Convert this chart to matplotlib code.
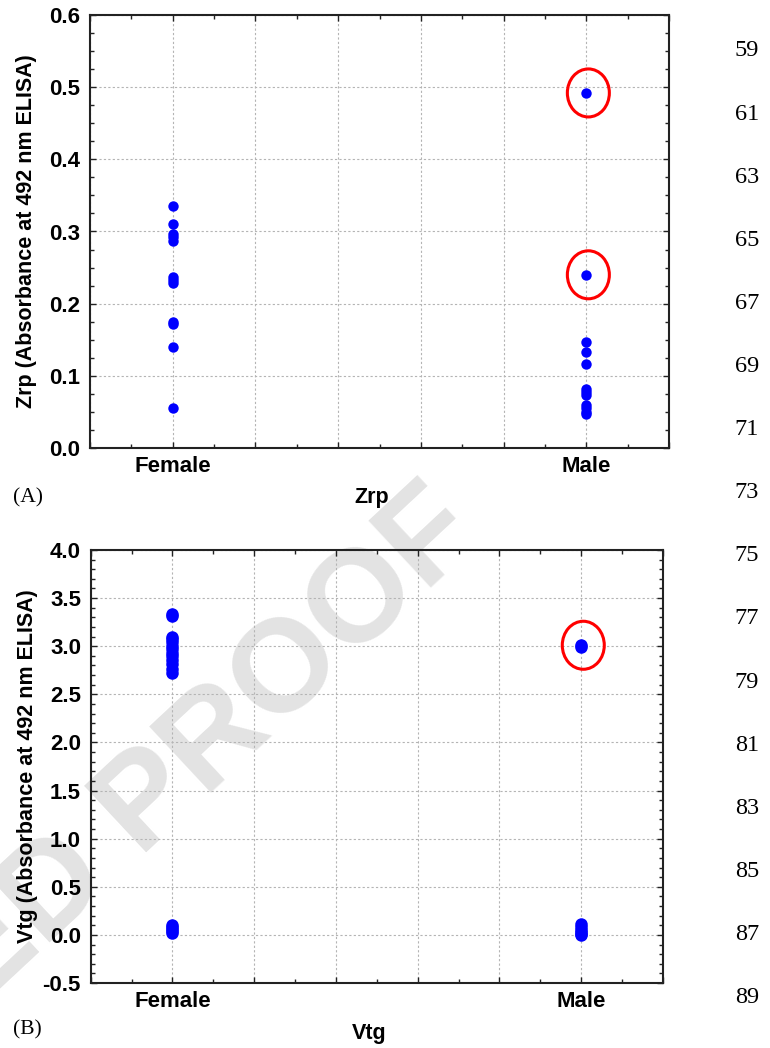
import numpy as np
import matplotlib
matplotlib.use('Agg')
import matplotlib.pyplot as plt
from matplotlib.patches import Ellipse
from matplotlib.ticker import MultipleLocator, FixedLocator, FixedFormatter, FormatStrFormatter

# Data
categories = ['Female', 'Male']
zrp_female = [0.335, 0.311, 0.297, 0.292, 0.287, 0.237, 0.233, 0.228, 0.175, 0.172, 0.140, 0.056]
zrp_male = [0.492, 0.240, 0.147, 0.133, 0.116, 0.082, 0.078, 0.074, 0.060, 0.055, 0.050, 0.047]
zrp_circled = [0, 1]
vtg_female = [3.33, 3.31, 3.10, 3.07, 3.04, 3.00, 2.97, 2.93, 2.90, 2.86, 2.82, 2.76, 2.72,
              0.10, 0.08, 0.06, 0.04, 0.02]
vtg_male = [3.01, 2.99, 0.11, 0.08, 0.05, 0.03, 0.01, 0.00]
vtg_circled = [0]
line_numbers = list(range(59, 90, 2))

plt.rcParams['font.family'] = ['Liberation Sans', 'DejaVu Sans']
plt.rcParams['font.weight'] = 'bold'
plt.rcParams['axes.labelweight'] = 'bold'
plt.rcParams['axes.unicode_minus'] = False

W, H = 770, 1048
fig = plt.figure(figsize=(W / 100, H / 100), dpi=100)


def fx(px):
    return px / W


def fy(py):
    return 1 - py / H


# watermark behind everything (its left part runs off the page, as in the source)
fig.text(fx(208), fy(748), 'ED PROOF', fontsize=95, fontweight='bold', color='#e3e3e3',
         rotation=43, ha='center', va='center', rotation_mode='anchor', zorder=-5)


def panel(rect, fem, male, circled, ylim, ystep, yminor, ms, ylabel, xlabel, xlab_y):
    ax = fig.add_axes(rect)
    ax.set_facecolor('none')
    ax.set_xlim(-0.2, 1.2)
    ax.set_ylim(*ylim)
    ax.set_axisbelow(True)

    ax.plot(np.zeros(len(fem)), fem, 'o', color='#0000ff', ms=ms, mec='none', zorder=3)
    ax.plot(np.ones(len(male)), male, 'o', color='#0000ff', ms=ms, mec='none', zorder=3)

    # red ellipses around the highlighted male points (about 42x48 px)
    bb = ax.get_window_extent()
    ew = 42 / bb.width * 1.4
    eh = 48 / bb.height * (ylim[1] - ylim[0])
    for i in circled:
        ax.add_patch(Ellipse((1.005, male[i]), ew, eh, fill=False, ec='#ff0000', lw=2.2, zorder=4))

    xt = np.round(np.arange(-0.2, 1.21, 0.2), 2)
    xl = [categories[int(v)] if v in (0.0, 1.0) else '' for v in xt]
    ax.xaxis.set_major_locator(FixedLocator(xt))
    ax.xaxis.set_major_formatter(FixedFormatter(xl))
    ax.xaxis.set_minor_locator(MultipleLocator(0.1))
    ax.yaxis.set_major_locator(MultipleLocator(ystep))
    ax.yaxis.set_minor_locator(MultipleLocator(yminor))
    ax.yaxis.set_major_formatter(FormatStrFormatter('%.1f'))

    ax.grid(True, which='major', color='#b4b4b4', linestyle=(0, (2, 2)), linewidth=0.8)
    ax.tick_params(which='both', direction='in', top=True, right=True, width=1, colors='#222222',
                   labelcolor='black')
    ax.tick_params(which='major', length=4, labelsize=16)
    ax.tick_params(which='minor', length=3)
    ax.tick_params(axis='y', pad=7)
    ax.tick_params(axis='x', pad=6)
    for s in ax.spines.values():
        s.set_linewidth(1.5)
        s.set_color('#222222')

    ax.set_ylabel(ylabel, fontsize=15.5, fontweight='bold', va='center')
    ax.yaxis.set_label_coords((27 - rect[0] * W) / (rect[2] * W), 0.5)
    ax.set_xlabel(xlabel, fontsize=15.5, fontweight='bold', va='center')
    ax.xaxis.set_label_coords(0.487, xlab_y)
    return ax


panel([fx(90), fy(448), (669 - 90) / W, (448 - 15) / H], zrp_female, zrp_male, zrp_circled,
      (0.0, 0.6), 0.1, 0.025, 7.5, 'Zrp (Absorbance at 492 nm ELISA)', 'Zrp', -0.115)
panel([fx(90.7), fy(983), (663 - 90.7) / W, (983 - 550) / H], vtg_female, vtg_male, vtg_circled,
      (-0.5, 4.0), 0.5, 0.1, 9, 'Vtg (Absorbance at 492 nm ELISA)', 'Vtg', -0.1155)

serif = ['Liberation Serif', 'DejaVu Serif']
fig.text(fx(13), fy(498), '(A)', family=serif, fontweight='normal', fontsize=15.5, va='center')
fig.text(fx(13), fy(1030), '(B)', family=serif, fontweight='normal', fontsize=15.5, va='center')

for k, n in enumerate(line_numbers):
    fig.text(fx(747), fy(51 + k * 63.1), str(n), family=serif, fontweight='normal',
             fontsize=17.5, ha='center', va='center')

fig.savefig('out.png', dpi=100)
